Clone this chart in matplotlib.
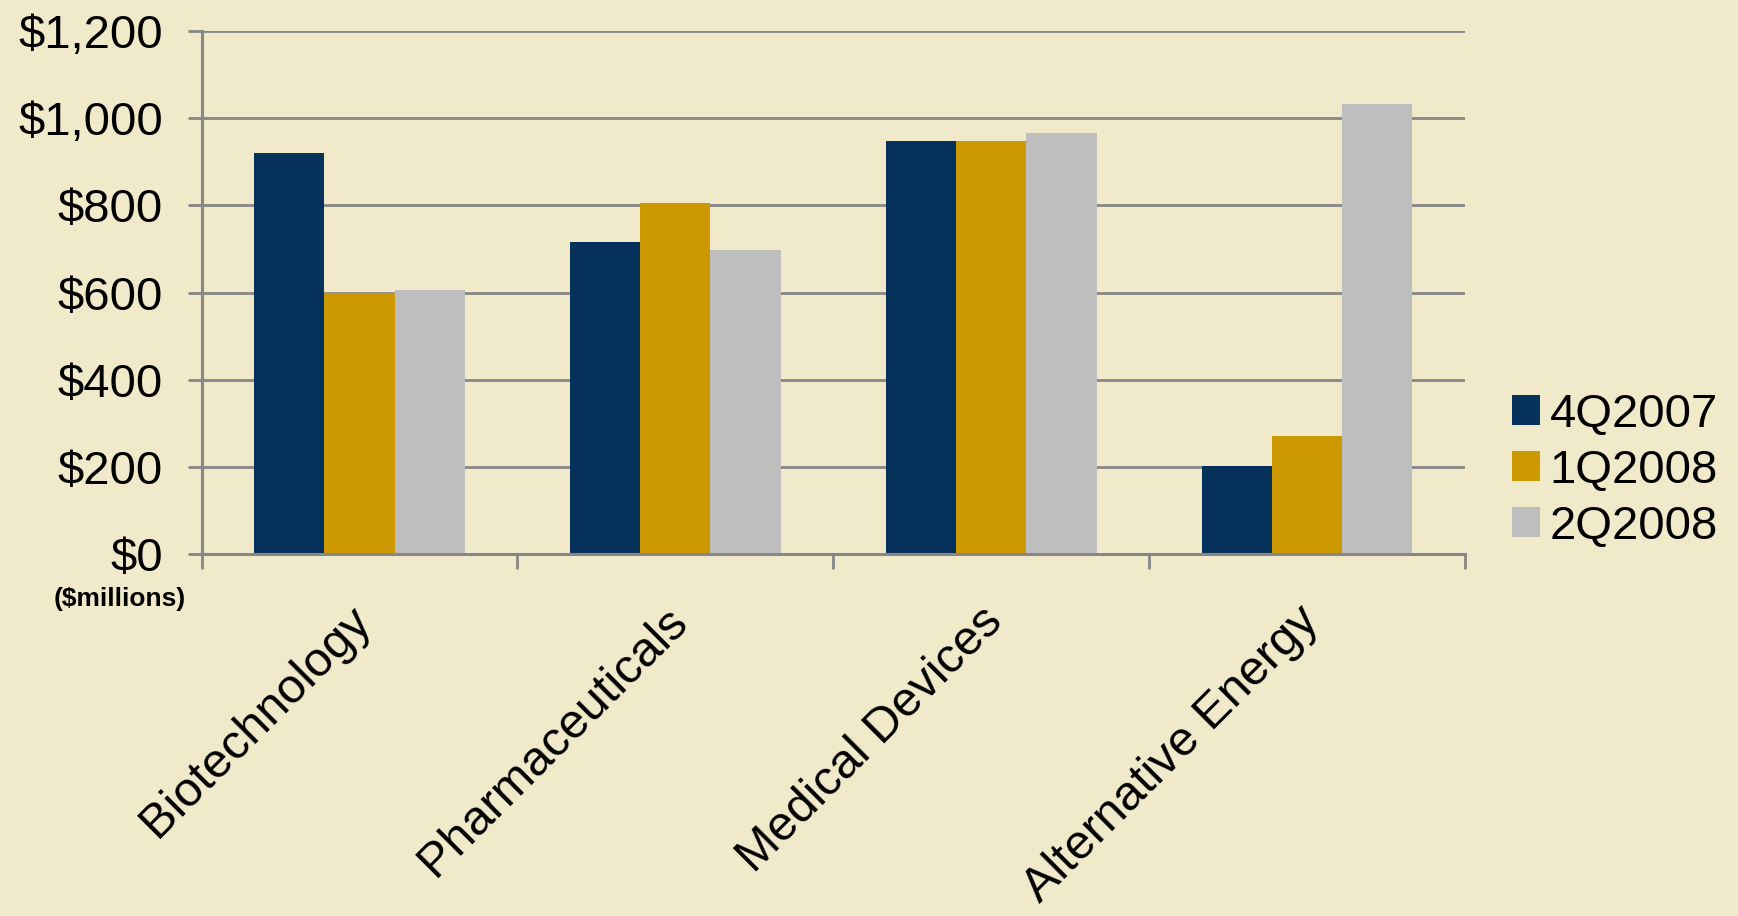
import numpy as np
import matplotlib
matplotlib.use("Agg")
import matplotlib.pyplot as plt
from matplotlib.transforms import ScaledTranslation, blended_transform_factory

plt.rcParams['font.family'] = ['Liberation Sans', 'DejaVu Sans']

categories = ["Biotechnology", "Pharmaceuticals", "Medical Devices", "Alternative Energy"]
series_names = ["4Q2007", "1Q2008", "2Q2008"]
q4_2007 = [920, 717, 948, 203]
q1_2008 = [600, 806, 948, 270]
q2_2008 = [605, 699, 966, 1032]
y_ticks = [0, 200, 400, 600, 800, 1000, 1200]
y_tick_labels = ["$0", "$200", "$400", "$600", "$800", "$1,000", "$1,200"]

bg = "#F0EACB"
colors = ["#06315A", "#CC9900", "#BEBEBE"]
grid_col = "#878787"

fig = plt.figure(figsize=(17.38, 9.16), dpi=100, facecolor=bg)
ax = fig.add_axes([0.116, 0.395, 0.727, 0.571])
ax.set_facecolor(bg)

x = np.arange(len(categories))
w = 0.222
for k, (vals, name) in enumerate(zip([q4_2007, q1_2008, q2_2008], series_names)):
    ax.bar(x + (k - 1) * w, vals, width=w, color=colors[k], label=name, zorder=2)

ax.set_xlim(-0.5, len(categories) - 0.5)
ax.set_ylim(0, 1200)
ax.set_yticks(y_ticks)
ax.set_yticklabels(y_tick_labels, fontsize=34)
ax.yaxis.grid(True, color=grid_col, linewidth=2)
ax.set_axisbelow(True)

# category boundaries get the tick marks, labels sit at the centres
ax.set_xticks(np.arange(-0.5, len(categories), 1.0))
ax.set_xticklabels([])
trans = blended_transform_factory(ax.transData, ax.transAxes) + \
    ScaledTranslation(-8 / 72, -32 / 72, fig.dpi_scale_trans)
for i, cat in enumerate(categories):
    ax.text(x[i], 0, cat, transform=trans, fontsize=35, rotation=45,
            ha="right", va="top", rotation_mode="anchor")

ax.tick_params(axis="y", length=10, width=2, color=grid_col, pad=18)
ax.tick_params(axis="x", length=11, width=2, color=grid_col)

for side in ["top", "right"]:
    ax.spines[side].set_visible(False)
for side in ["left", "bottom"]:
    ax.spines[side].set_color(grid_col)
    ax.spines[side].set_linewidth(2.2)

fig.text(0.069, 0.346, "($millions)", fontsize=19, fontweight="bold",
         ha="center", va="center")

fig.legend(loc="center left", bbox_to_anchor=(0.870, 0.486), frameon=False,
           fontsize=34, handlelength=0.6, handleheight=0.6, handletextpad=0.2,
           labelspacing=0.25, borderpad=0, borderaxespad=0)

fig.savefig("out.png", dpi=100, facecolor=bg)
